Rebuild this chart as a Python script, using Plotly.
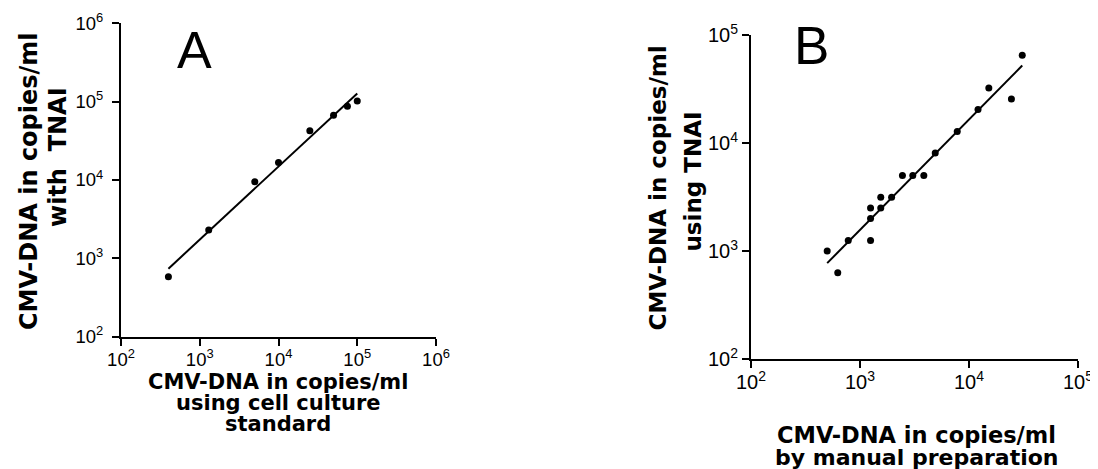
import numpy as np
import plotly.graph_objects as go

# ---------------- data ----------------
# Panel A: cell culture standard vs TNAI
a_x = [400, 1300, 5000, 10000, 25000, 50000, 75000, 100000]
a_y = [580, 2300, 9500, 16700, 42400, 67000, 87500, 102000]

# Panel B: manual preparation vs TNAI
b_x = [500, 625, 780, 1250, 1250, 1250, 1550, 1550, 1950, 2450, 3050, 3850,
       4900, 7800, 12100, 15200, 24500, 30800]
b_y = [1000, 630, 1250, 1250, 2000, 2500, 2500, 3150, 3150, 5000, 5000, 5000,
       8100, 12800, 20400, 32300, 25600, 65000]

a_ticks = [1e2, 1e3, 1e4, 1e5, 1e6]
a_ticktext = ["10<sup>2</sup>", "10<sup>3</sup>", "10<sup>4</sup>", "10<sup>5</sup>", "10<sup>6</sup>"]
b_ticks = [1e2, 1e3, 1e4, 1e5]
b_ticktext = ["10<sup>2</sup>", "10<sup>3</sup>", "10<sup>4</sup>", "10<sup>5</sup>"]

a_xtitle = ["CMV-DNA in copies/ml", "using cell culture", "standard"]
a_ytitle = ["CMV-DNA in copies/ml", "with&nbsp; TNAI"]
b_xtitle = ["CMV-DNA in copies/ml", "by manual preparation"]
b_ytitle = ["CMV-DNA in copies/ml", "using TNAI"]


def fit_line(xs, ys):
    lx, ly = np.log10(xs), np.log10(ys)
    k, c = np.polyfit(lx, ly, 1)
    fx = np.array([lx.min(), lx.max()])
    return 10 ** fx, 10 ** (k * fx + c)


# page has an 8px body margin: figure sized to fit the 1098x469 window
OFF = 8
W, H = 1098 - OFF, 469 - OFF
fig = go.Figure()

fa_x, fa_y = fit_line(a_x, a_y)
fb_x, fb_y = fit_line(b_x, b_y)

fig.add_trace(go.Scatter(x=fa_x, y=fa_y, mode="lines", line=dict(color="black", width=2),
                         xaxis="x", yaxis="y", showlegend=False))
fig.add_trace(go.Scatter(x=a_x, y=a_y, mode="markers", marker=dict(color="black", size=7),
                         xaxis="x", yaxis="y", showlegend=False))
fig.add_trace(go.Scatter(x=fb_x, y=fb_y, mode="lines", line=dict(color="black", width=2),
                         xaxis="x2", yaxis="y2", showlegend=False))
fig.add_trace(go.Scatter(x=b_x, y=b_y, mode="markers", marker=dict(color="black", size=7),
                         xaxis="x2", yaxis="y2", showlegend=False))

axis_common = dict(type="log", showgrid=False, zeroline=False, showline=True,
                   linecolor="black", linewidth=2, ticks="outside", ticklen=7,
                   tickwidth=1.5, tickcolor="black", mirror=False, automargin=False)

fa = dict(family="Liberation Sans", size=18.5, color="black")
fb = dict(family="Liberation Sans", size=20, color="black")

def px_x(p):
    return (p - OFF) / W

def px_y(p):
    return 1 - (p - OFF) / H

fig.update_layout(
    template="none",
    width=W, height=H,
    margin=dict(l=0, r=0, t=0, b=0, pad=0, autoexpand=False),
    paper_bgcolor="white", plot_bgcolor="white",
    showlegend=False,
    xaxis=dict(axis_common, domain=[px_x(121), px_x(436)], range=[2, 6],
               tickvals=a_ticks, ticktext=a_ticktext, tickfont=fa, anchor="y",
               ticklabelstandoff=-2),
    yaxis=dict(axis_common, domain=[px_y(336.5), px_y(23.3)], range=[2, 6],
               tickvals=a_ticks, ticktext=a_ticktext, tickfont=fa, anchor="x",
               ticklabelstandoff=5),
    xaxis2=dict(axis_common, domain=[px_x(751), px_x(1078)], range=[2, 5],
                tickvals=b_ticks, ticktext=b_ticktext, tickfont=fb, anchor="y2",
                ticklabelstandoff=-3),
    yaxis2=dict(axis_common, domain=[px_y(359), px_y(35)], range=[2, 5],
                tickvals=b_ticks, ticktext=b_ticktext, tickfont=fb, anchor="x2"),
)

def note(text, x, y, size, angle=0, family="DejaVu Sans", bold=True):
    fig.add_annotation(
        text=("<b>%s</b>" % text) if bold else text,
        x=px_x(x), y=px_y(y), xref="paper", yref="paper",
        xanchor="center", yanchor="middle", showarrow=False, textangle=angle,
        font=dict(family=family, size=size, color="black"))

# Panel letters
note("A", 194, 50, 52, family="Liberation Sans", bold=False)
note("B", 811.5, 46, 53, family="Liberation Sans", bold=False)

# Panel A titles
for t, yy in zip(a_xtitle, [381.5, 402.5, 423.5]):
    note(t, 278, yy, 21)
note(a_ytitle[0], 29, 181, 24, angle=-90)
note(a_ytitle[1], 58, 157, 24, angle=-90)

# Panel B titles
note(b_xtitle[0], 916.7, 435, 22.5)
note(b_xtitle[1], 916.7, 457, 22)
note(b_ytitle[0], 657.5, 188, 23, angle=-90)
note(b_ytitle[1], 692.5, 182, 23, angle=-90)

fig.write_html("out.html")
